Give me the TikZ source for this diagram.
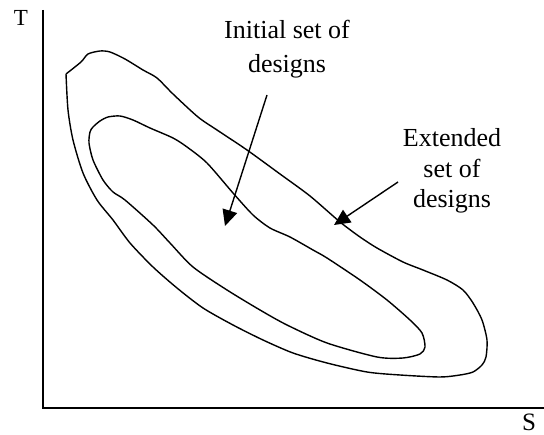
\documentclass[tikz,border=0pt]{standalone}
\usepackage{fontspec}
\setmainfont{Liberation Serif}
\usetikzlibrary{arrows.meta}

\tikzset{
  axisline/.style={line width=2.2pt},
  blob/.style={line width=1.4pt, line join=round},
  pointer/.style={line width=1.4pt, -{Triangle[length=16pt,width=15pt]}},
  lbl/.style={align=center, inner sep=0pt, anchor=base},
}

\begin{document}
\begin{tikzpicture}[x=1pt, y=-1pt]
        \useasboundingbox (0,0) rectangle (544,435);

        % axes
        \coordinate (origin) at (43,408);
        \coordinate (ttop) at (43,10);
        \coordinate (send) at (544,408);
        \draw[axisline] (ttop) -- (origin) -- (send);
        \node[font=\fontsize{23}{24}\selectfont, inner sep=0pt, anchor=base] (taxis) at (21,26) {T};
        \node[font=\fontsize{25}{26}\selectfont, inner sep=0pt, anchor=base] (saxis) at (529,431) {S};

        % extended set
        \draw[blob] plot[smooth, tension=0.45] coordinates {
          (66,74) (81,62) (88,54) (100,51) (110,52) (125,59) (143,70) (157,78)
          (173,94) (198,117) (217,130) (247,150) (280,174) (310,196) (340,222)
          (360,237) (377,248) (403,262) (423,270) (447,280) (463,290) (473,303)
          (482,320) (487,340) (486,357) (482,365) (473,372) (460,375) (440,377)
          (400,375) (367,372) (327,363) (293,353) (263,340) (233,325) (203,308)
          (177,288) (153,267) (130,243) (113,220) (97,200) (83,173) (73,140)
          (68,110) (66,74)};

        % initial set
        \draw[blob] plot[smooth cycle, tension=0.45] coordinates {
          (90,132) (93,127) (100,121) (108,117) (120,116) (133,120) (150,128)
          (173,138) (187,147) (207,163) (233,193) (253,215) (270,228) (290,237)
          (313,250) (327,258) (360,280) (387,300) (410,320) (422,333) (425,347)
          (420,354) (403,358) (377,357) (327,343) (287,325) (260,310) (227,290)
          (193,267) (170,243) (153,225) (125,200) (113,192) (103,180) (93,160)
          (89,143)};

        % labels (base = last line)
        \node[lbl, font=\fontsize{26}{34}\selectfont] (initlbl) at (287,73) {Initial set of\\designs};
        \node[lbl, font=\fontsize{26}{30.5}\selectfont] (extlbl) at (452,208) {Extended\\set of\\designs};

        \coordinate (initTail) at (267,95);
        \coordinate (initTip) at (225,226);
        \coordinate (extTail) at (398,182);
        \coordinate (extTip) at (334,225);
        \draw[pointer] (initTail) -- (initTip);
        \draw[pointer] (extTail) -- (extTip);
      \end{tikzpicture}
\end{document}
